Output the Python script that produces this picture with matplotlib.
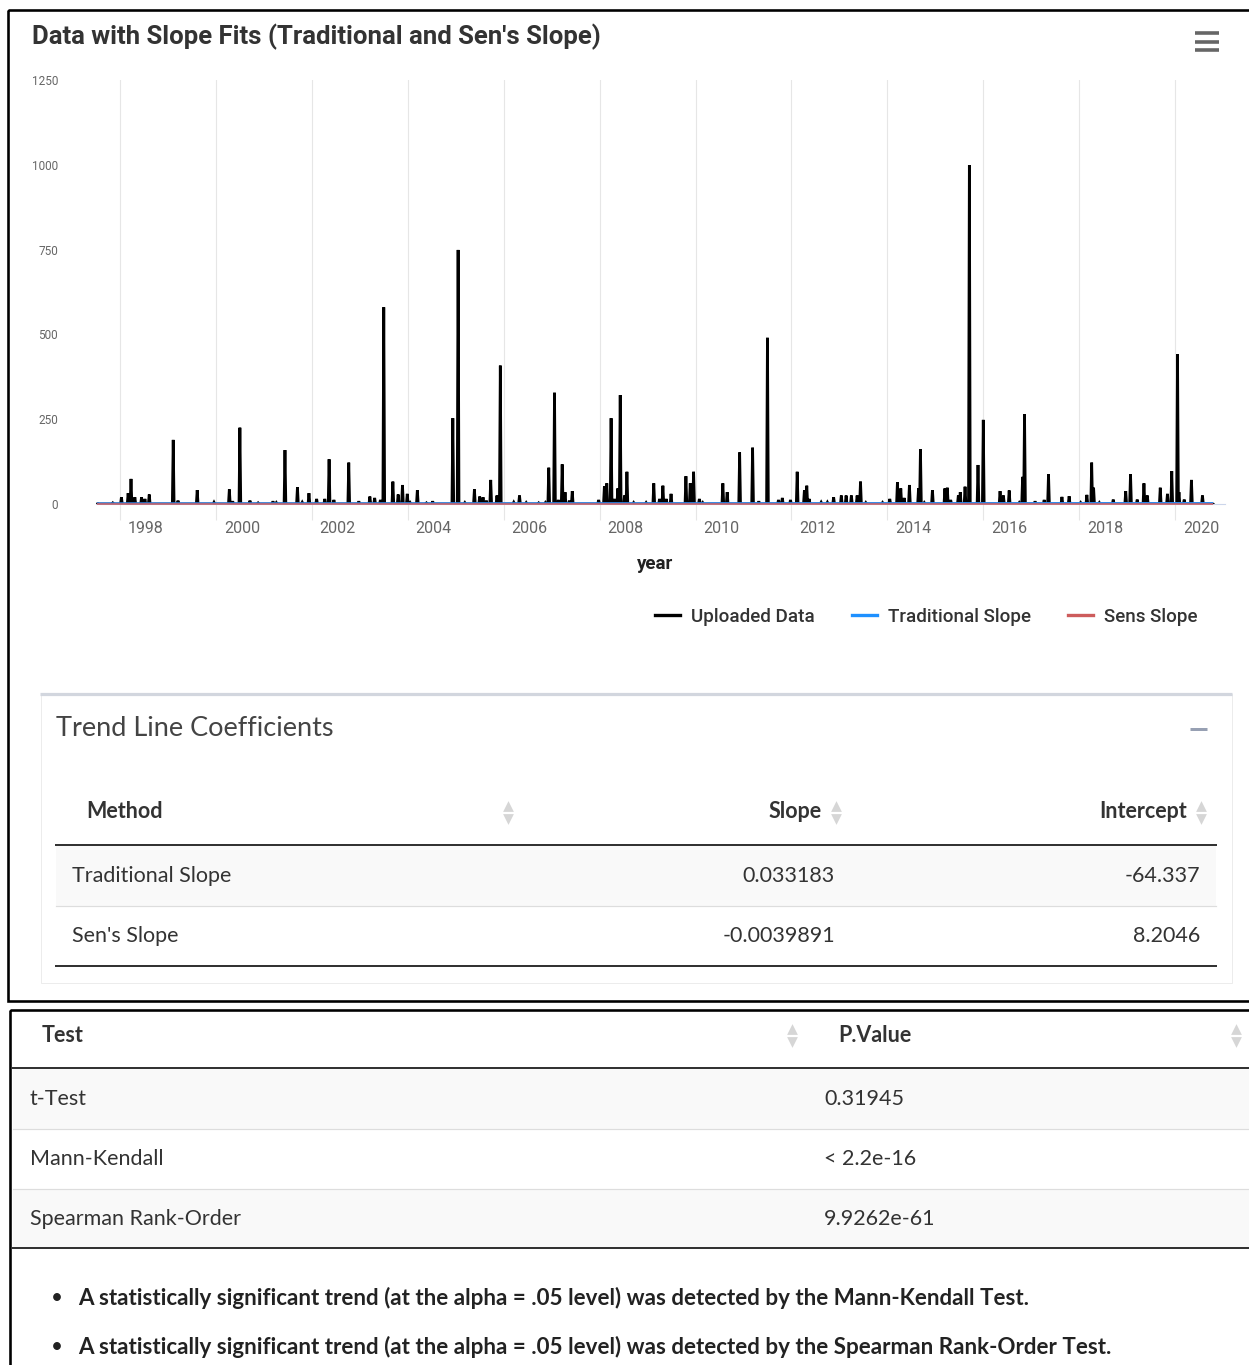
import numpy as np
import matplotlib
matplotlib.use("Agg")
import matplotlib.pyplot as plt
from matplotlib.lines import Line2D
from matplotlib.patches import Rectangle
from matplotlib.transforms import ScaledTranslation

# ---------------------------------------------------------------- data
# Uploaded series: decimal year and value of each reading
obs_year = [1997.54, 1997.85, 1998.03, 1998.17, 1998.23, 1998.31, 1998.45, 1998.52, 1998.61,
            1999.11, 1999.21, 1999.61, 1999.96, 2000.28, 2000.35, 2000.50, 2000.71, 2000.88,
            2001.19, 2001.26, 2001.44, 2001.70, 2001.80, 2001.94, 2002.10, 2002.27, 2002.36,
            2002.46, 2002.77, 2002.98, 2003.21, 2003.31, 2003.43, 2003.50, 2003.69, 2003.80,
            2003.89, 2003.99, 2004.05, 2004.20, 2004.39, 2004.52, 2004.94, 2005.05, 2005.19,
            2005.39, 2005.50, 2005.57, 2005.64, 2005.73, 2005.86, 2005.93, 2006.21, 2006.33,
            2006.47, 2006.73, 2006.87, 2006.94, 2007.06, 2007.14, 2007.22, 2007.28, 2007.37,
            2007.43, 2007.98, 2008.10, 2008.15, 2008.24, 2008.31, 2008.38, 2008.43, 2008.52,
            2008.57, 2008.71, 2008.97, 2009.13, 2009.25, 2009.32, 2009.39, 2009.49, 2009.80,
            2009.89, 2009.96, 2010.08, 2010.15, 2010.57, 2010.66, 2010.92, 2011.19, 2011.32,
            2011.50, 2011.73, 2011.81, 2011.98, 2012.12, 2012.27, 2012.32, 2012.37, 2012.62,
            2012.75, 2012.88, 2013.04, 2013.14, 2013.25, 2013.37, 2013.44, 2013.55, 2013.90,
            2014.05, 2014.21, 2014.28, 2014.35, 2014.46, 2014.65, 2014.69, 2014.77, 2014.94,
            2015.20, 2015.25, 2015.32, 2015.48, 2015.52, 2015.62, 2015.71, 2015.89, 2016.00,
            2016.35, 2016.42, 2016.54, 2016.75, 2016.82, 2016.86, 2017.08, 2017.27, 2017.36,
            2017.64, 2017.79, 2018.03, 2018.16, 2018.26, 2018.30, 2018.42, 2018.71, 2018.97,
            2019.07, 2019.21, 2019.35, 2019.42, 2019.69, 2019.84, 2019.93, 2020.05, 2020.08,
            2020.19, 2020.34, 2020.57, 2020.77]
obs_value = [1, 3, 20, 32, 74, 20, 20, 15, 28,
             189, 10, 41, 5, 43, 8, 225, 10, 3,
             8, 4, 159, 49, 5, 32, 15, 15, 132,
             12, 122, 8, 22, 18, 12, 580, 66, 28,
             56, 30, 4, 41, 3, 8, 253, 749, 4,
             43, 22, 20, 10, 71, 25, 408, 5, 25,
             4, 3, 4, 107, 328, 12, 117, 35, 10,
             38, 12, 52, 61, 253, 15, 46, 321, 25,
             95, 4, 4, 61, 15, 54, 15, 30, 82,
             61, 95, 15, 4, 61, 35, 152, 166, 8,
             490, 12, 18, 12, 95, 40, 54, 15, 5,
             5, 20, 25, 25, 25, 25, 66, 4, 4,
             15, 64, 46, 18, 56, 46, 161, 4, 41,
             46, 48, 12, 25, 35, 51, 999, 115, 248,
             38, 25, 40, 4, 80, 265, 8, 12, 88,
             21, 23, 4, 27, 122, 48, 4, 13, 38,
             88, 13, 61, 25, 48, 30, 97, 441, 35,
             13, 71, 25, 1]

# Trend line coefficients
methods = ["Traditional Slope", "Sen's Slope"]
slopes = [0.033183, -0.0039891]
intercepts = [-64.337, 8.2046]

# Trend tests
tests = ["t-Test", "Mann-Kendall", "Spearman Rank-Order"]
p_values = ["0.31945", "< 2.2e-16", "9.9262e-61"]

findings = [
    "A statistically significant trend (at the alpha = .05 level) was detected by the Mann-Kendall Test.",
    "A statistically significant trend (at the alpha = .05 level) was detected by the Spearman Rank-Order Test.",
]

x_ticks = list(range(1998, 2021, 2))
y_ticks = [0, 250, 500, 750, 1000, 1250]

# ---------------------------------------------------------------- figure
W, H = 1249, 1365
fig = plt.figure(figsize=(W / 100, H / 100), dpi=100)
fig.patch.set_facecolor("white")

# page layer in pixel units (origin top-left)
pg = fig.add_axes([0, 0, 1, 1])
pg.set_xlim(0, W)
pg.set_ylim(H, 0)
pg.axis("off")

CHART_FONT = "Roboto"
BODY_FONT = "Lato"


def px(lw):
    return lw * 72 / 100


# outer frames
pg.add_patch(Rectangle((8, 10), W + 20, 991, fill=False, ec="black", lw=px(2.6)))
pg.add_patch(Rectangle((10, 1010), W + 20, 400, fill=False, ec="black", lw=px(2.6)))

# ---------------------------------------------------------------- chart
fig.text(32 / W, 1 - 37 / H, "Data with Slope Fits (Traditional and Sen's Slope)",
         fontsize=18.5, family=CHART_FONT, weight="bold", color="#333333",
         ha="left", va="center")

# export menu icon
for yy in (33, 41.5, 50):
    pg.plot([1195, 1219], [yy, yy], color="#666666", lw=px(3.6), solid_capstyle="butt")

ax = fig.add_axes([96 / W, 1 - 504 / H, (1225 - 96) / W, (504 - 80) / H])
ax.set_facecolor("none")
ax.set_xlim(1997.50, 2021.04)
ax.set_ylim(0, 1250)

# the series is drawn as thin spikes: baseline -> reading -> baseline
t = np.asarray(obs_year)
v = np.asarray(obs_value, dtype=float)
hw = 0.018
sx = np.column_stack([t - hw, t, t + hw]).ravel()
sy = np.column_stack([np.zeros_like(v), v, np.zeros_like(v)]).ravel()
ax.plot(sx, sy, color="black", lw=2.0, solid_joinstyle="miter", zorder=3)

# fitted trend lines over the span of the data
xs = np.array([t.min(), t.max()])
trad_col, sens_col = "#1E90FF", "#CD5C5C"
ax.plot(xs, slopes[0] * xs + intercepts[0], color=trad_col, lw=1.5, zorder=4,
        clip_on=False)
ax.plot(xs, slopes[1] * xs + intercepts[1], color=sens_col, lw=1.5, alpha=0.8, zorder=5,
        clip_on=False)

for s in ("top", "right", "left"):
    ax.spines[s].set_visible(False)
ax.spines["bottom"].set_color("#ccd6eb")
ax.spines["bottom"].set_linewidth(0.8)

ax.set_xticks(x_ticks)
ax.set_xticklabels([str(y) for y in x_ticks])
ax.tick_params(axis="x", length=px(16), width=0.8, color="#e6e6e6", pad=1,
               labelsize=11.5, labelcolor="#666666")
shift = ScaledTranslation(26 / 100, 0, fig.dpi_scale_trans)
for lab in ax.get_xticklabels():
    lab.set_fontfamily(CHART_FONT)
    lab.set_transform(lab.get_transform() + shift)
ax.grid(axis="x", color="#e6e6e6", lw=0.8)

ax.set_yticks(y_ticks)
ax.set_yticklabels([str(y) for y in y_ticks])
ax.tick_params(axis="y", length=0, pad=px(38), labelsize=8.5, labelcolor="#666666")
for lab in ax.get_yticklabels():
    lab.set_fontfamily(CHART_FONT)

ax.set_xlabel("year", fontsize=13.5, family=CHART_FONT, weight="bold", color="#222222")
ax.xaxis.set_label_coords((655 - 96) / (1225 - 96), -(555 - 504) / 424)

handles = [Line2D([], [], color="black", lw=2.4),
           Line2D([], [], color=trad_col, lw=2.4),
           Line2D([], [], color=sens_col, lw=2.4)]
leg = ax.legend(handles, ["Uploaded Data", "Traditional Slope", "Sens Slope"],
                loc="center right", bbox_to_anchor=(1214 / W, 1 - 617 / H),
                bbox_transform=fig.transFigure, ncol=3, frameon=False,
                prop={"family": CHART_FONT, "size": 13.5, "weight": "medium"},
                handlelength=1.35, handletextpad=0.55, columnspacing=2.0,
                labelcolor="#333333")

# ---------------------------------------------------------------- coefficient panel
pg.add_patch(Rectangle((41, 694), 1191, 289, fc="white", ec="#ececec", lw=px(1)))
pg.plot([40, 1232], [694, 694], color="#d2d6de", lw=px(3.2), solid_capstyle="butt")
pg.text(56, 729, "Trend Line Coefficients", fontsize=19.5, family=BODY_FONT,
        color="#444444", ha="left", va="center")
pg.plot([1190, 1207], [729, 729], color="#97a0b3", lw=px(3), solid_capstyle="butt")


def sort_arrows(x, y):
    pg.scatter([x], [y - 6.5], marker="^", s=60, color="#d6d6d6", lw=0)
    pg.scatter([x], [y + 6.5], marker="v", s=60, color="#d6d6d6", lw=0)


head_kw = dict(fontsize=15.5, family=BODY_FONT, weight="bold", color="#333333", va="center")
cell_kw = dict(fontsize=15.5, family=BODY_FONT, color="#333333", va="center")

pg.text(86, 812, "Method", ha="left", **head_kw)
sort_arrows(508, 812)
pg.text(822, 812, "Slope", ha="right", **head_kw)
sort_arrows(836, 812)
pg.text(1187, 812, "Intercept", ha="right", **head_kw)
sort_arrows(1201, 812)

row_h = 60
top = 846
for i, (m, s, b) in enumerate(zip(methods, slopes, intercepts)):
    y0 = top + i * row_h
    if i % 2 == 0:
        pg.add_patch(Rectangle((56, y0), 1160, row_h, fc="#f9f9f9", ec="none"))
    if i > 0:
        pg.plot([56, 1216], [y0, y0], color="#dddddd", lw=px(1.2))
    yc = y0 + row_h / 2
    pg.text(72, yc, m, ha="left", **cell_kw)
    pg.text(835, yc, f"{s:.5g}", ha="right", **cell_kw)
    pg.text(1200, yc, f"{b:.5g}", ha="right", **cell_kw)
pg.plot([56, 1216], [845, 845], color="#333333", lw=px(2))
pg.plot([56, 1216], [top + len(methods) * row_h, top + len(methods) * row_h],
        color="#333333", lw=px(2))

# ---------------------------------------------------------------- test table
pg.text(42, 1035, "Test", ha="left", **head_kw)
sort_arrows(792, 1035)
pg.text(838, 1035, "P.Value", ha="left", **head_kw)
sort_arrows(1236, 1035)

top2 = 1069
for i, (name, p) in enumerate(zip(tests, p_values)):
    y0 = top2 + i * row_h
    if i % 2 == 0:
        pg.add_patch(Rectangle((13, y0), W - 13, row_h, fc="#f9f9f9", ec="none"))
    if i > 0:
        pg.plot([13, W], [y0, y0], color="#dddddd", lw=px(1.2))
    yc = y0 + row_h / 2
    pg.text(30, yc, name, ha="left", **cell_kw)
    pg.text(824, yc, p, ha="left", **cell_kw)
pg.plot([13, W], [1068, 1068], color="#333333", lw=px(2))
pg.plot([13, W], [top2 + len(tests) * row_h - 1, top2 + len(tests) * row_h - 1],
        color="#333333", lw=px(2))

for i, line in enumerate(findings):
    yy = 1298 + i * 49
    pg.text(57, yy, "\u2022", fontsize=15, family=BODY_FONT, color="#222222",
            ha="center", va="center")
    pg.text(78, yy, line, fontsize=16.15, family=BODY_FONT, weight="bold",
            color="#222222", ha="left", va="center")

fig.savefig("out.png", dpi=100)
